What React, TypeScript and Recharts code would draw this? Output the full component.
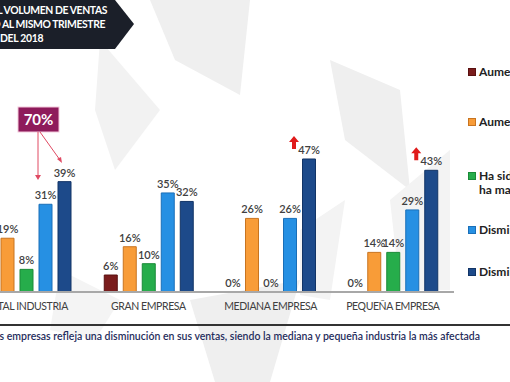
import React from "react";
import { BarChart, Bar, XAxis, YAxis, LabelList, Cell } from "recharts";

const categories = ["TOTAL INDUSTRIA", "GRAN EMPRESA", "MEDIANA EMPRESA", "PEQUEÑA EMPRESA"];
const aumentoMucho = [3, 6, 0, 0];
const aumento = [19, 16, 26, 14];
const igual = [8, 10, 0, 14];
const disminucion = [31, 35, 26, 29];
const disminucionMucho = [39, 32, 47, 43];
const flagged = [false, false, true, true];

const SERIES = [
  { key: "aumentoMucho", name: "Aumentó mucho", fill: "#7a1c1c", stroke: "#5a1010", values: aumentoMucho },
  { key: "aumento", name: "Aumentó", fill: "#f89c38", stroke: "#c87420", values: aumento },
  { key: "igual", name: "Ha sido igual,\nha mantenido", fill: "#26ad4b", stroke: "#1a8a38", values: igual },
  { key: "disminucion", name: "Disminuyó", fill: "#2690e3", stroke: "#1a6fb8", values: disminucion },
  { key: "disminucionMucho", name: "Disminuyó mucho", fill: "#1d4a8a", stroke: "#123466", values: disminucionMucho },
];
const LEGEND_TOP = [65, 115, 169, 223, 265];

const data = categories.map((name, i) => ({
  name,
  aumentoMucho: aumentoMucho[i],
  aumento: aumento[i],
  igual: igual[i],
  disminucion: disminucion[i],
  disminucionMucho: disminucionMucho[i],
}));

const FONT = "Lato, 'Open Sans', sans-serif";

const ValueLabel = (props: any) => {
  const { x, y, width, height, value, index, arrows } = props;
  const cx = x + width / 2;
  const top = height < 0 ? y + height : y;
  return (
    <g>
      <text x={cx} y={top - 5} textAnchor="middle" fontSize={11} fontWeight={600} fill="#404040" fontFamily={FONT}>
        {Math.round(value)}%
      </text>
      {arrows && flagged[index] && (
        <path d={`M${cx - 15} ${top - 23} l5 6 h-3 v7 h-4 v-7 h-3 z`} fill="#e01b1b" />
      )}
    </g>
  );
};

export default function App() {
  return (
    <div style={{ position: "absolute", left: 0, top: 0, width: 510, height: 382, overflow: "hidden", background: "#fff", fontFamily: FONT }}>
      {/* watermark */}
      <svg width={510} height={382} style={{ position: "absolute", left: 0, top: 0 }}>
        <polygon points="150,0 250,0 240,95 175,60" fill="#efefef" />
        <polygon points="100,40 160,110 115,170 95,110" fill="#f2f2f2" />
        <polygon points="330,60 400,90 410,190 345,140" fill="#efefef" />
        <polygon points="390,200 450,150 450,290 400,290" fill="#f3f3f3" />
        <polygon points="190,300 300,280 270,382 215,382" fill="#efefef" />
        <polygon points="300,230 345,200 330,300 300,295" fill="#f3f3f3" />
        <polygon points="60,270 120,300 95,340 50,330" fill="#f4f4f4" />
      </svg>

      {/* title banner */}
      <svg width={150} height={60} style={{ position: "absolute", left: 0, top: 0 }}>
        <polygon points="0,0 115,0 134,24 115,49 0,49" fill="#1b1f29" />
      </svg>
      <div style={{ position: "absolute", right: 403, top: 3, color: "#fff", fontWeight: 700, fontSize: 10.4, letterSpacing: -0.4, whiteSpace: "nowrap", lineHeight: "14px", textAlign: "right" }}>
        <div>CAMBIO EN EL VOLUMEN DE VENTAS</div>
        <div style={{ marginRight: 2 }}>RESPECTO AL MISMO TRIMESTRE</div>
      </div>
      <div style={{ position: "absolute", left: 0, top: 31, color: "#fff", fontWeight: 700, fontSize: 10.4, letterSpacing: -0.3, lineHeight: "14px" }}>
        DEL 2018
      </div>

      <div style={{ position: "absolute", left: -35, top: 100 }}>
        <BarChart
          width={489}
          height={222}
          data={data}
          margin={{ top: 50.5, right: 0, left: 0, bottom: 0 }}
          barSize={13}
          barGap={6}
        >
          <XAxis
            dataKey="name"
            height={30}
            tickLine={false}
            tickMargin={5}
            axisLine={{ stroke: "#a8a8a8", strokeWidth: 2 }}
            tick={{ fontSize: 10.5, fill: "#404040", fontFamily: FONT, letterSpacing: -0.4 }}
            interval={0}
          />
          <YAxis hide domain={[0, 50]} />
          {SERIES.map((s) => (
            <Bar
              key={s.key}
              dataKey={s.key}
              fill={s.fill}
              stroke={s.stroke}
              strokeWidth={1}
              minPointSize={0.01}
              isAnimationActive={false}
            >
              {s.values.map((v, i) => (
                <Cell key={i} fill={v === 0 ? "none" : s.fill} stroke={v === 0 ? "none" : s.stroke} />
              ))}
              <LabelList dataKey={s.key} content={<ValueLabel arrows={s.key === "disminucionMucho"} />} />
            </Bar>
          ))}
        </BarChart>
      </div>

      {/* 70% callout */}
      <svg width={80} height={90} style={{ position: "absolute", left: 0, top: 100 }}>
        <rect x={18} y={7} width={41} height={25} fill="#8e1b5b" stroke="#f4c9dc" strokeWidth={1} />
        <text x={38.5} y={25} textAnchor="middle" fill="#fff" fontSize={15} fontWeight={700} fontFamily={FONT}>70%</text>
        <line x1={38} y1={32} x2={38} y2={77} stroke="#e04a63" strokeWidth={1} />
        <path d="M35 75 l3 5 l3 -5 z" fill="#e04a63" />
        <line x1={40} y1={32} x2={60} y2={60} stroke="#e04a63" strokeWidth={1} />
        <path d="M57 59 l5 4 l-1 -6 z" fill="#e04a63" />
      </svg>

      {/* legend */}
      {SERIES.map((s, i) => (
        <div key={s.key} style={{ position: "absolute", left: 468, top: LEGEND_TOP[i], display: "flex", alignItems: "flex-start", whiteSpace: "pre", fontSize: 12, fontWeight: 700, color: "#222", lineHeight: "14px" }}>
          <span style={{ display: "inline-block", width: 6, height: 6, background: s.fill, border: `1px solid ${s.stroke}`, marginTop: 3, marginRight: 3 }} />
          <span>{s.name}</span>
        </div>
      ))}

      {/* footer */}
      <div style={{ position: "absolute", left: 0, top: 324, width: 510, height: 2, background: "#333" }} />
      <div style={{ position: "absolute", right: 30, top: 330, whiteSpace: "nowrap", fontSize: 10.5, fontWeight: 600, color: "#1f2d5c" }}>
        El 70% de las empresas refleja una disminución en sus ventas, siendo la mediana y pequeña industria la más afectada
      </div>
    </div>
  );
}
